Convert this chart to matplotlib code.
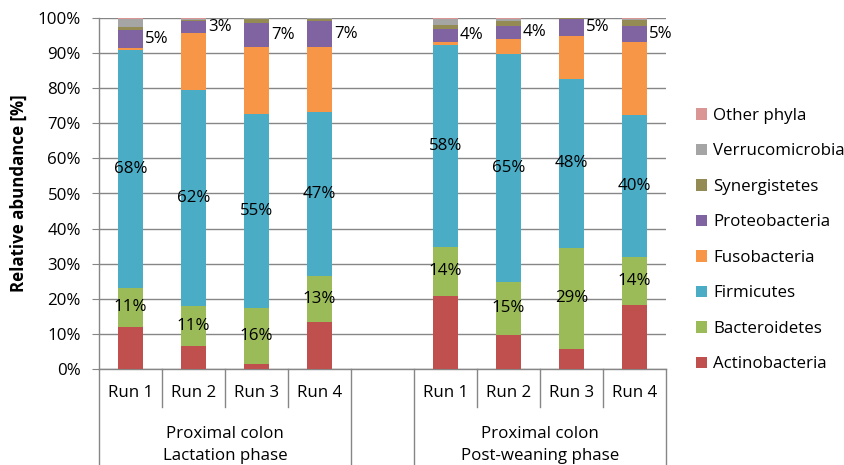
import matplotlib
matplotlib.use("Agg")
import matplotlib.pyplot as plt
from matplotlib.patches import Patch
import matplotlib.transforms as mtransforms
import numpy as np

plt.rcParams['font.family'] = ['Open Sans', 'DejaVu Sans']
FS = 12.2

runs = ["Run 1", "Run 2", "Run 3", "Run 4", "Run 1", "Run 2", "Run 3", "Run 4"]
groups = ["Proximal colon\nLactation phase", "Proximal colon\nPost-weaning phase"]
phyla = ["Actinobacteria", "Bacteroidetes", "Firmicutes", "Fusobacteria",
         "Proteobacteria", "Synergistetes", "Verrucomicrobia", "Other phyla"]

actinobacteria  = [11.9, 6.6, 1.5, 13.5, 20.9, 9.6, 5.8, 18.3]
bacteroidetes   = [11.3, 11.4, 16.0, 13.0, 13.9, 15.3, 28.7, 13.7]
firmicutes      = [67.7, 61.6, 55.2, 46.6, 57.6, 64.8, 48.1, 40.4]
fusobacteria    = [0.6, 16.2, 19.0, 18.6, 0.9, 4.4, 12.4, 20.8]
proteobacteria  = [5.2, 3.3, 7.0, 7.4, 3.6, 3.6, 4.6, 4.6]
synergistetes   = [0.7, 0.4, 1.1, 0.7, 1.1, 1.4, 0.3, 1.7]
verrucomicrobia = [2.4, 0.3, 0.1, 0.1, 1.8, 0.6, 0.0, 0.2]
other_phyla     = [0.2, 0.2, 0.1, 0.1, 0.2, 0.3, 0.1, 0.3]

series = [actinobacteria, bacteroidetes, firmicutes, fusobacteria,
          proteobacteria, synergistetes, verrucomicrobia, other_phyla]
colors = ["#C0504D", "#9BBB59", "#4BACC6", "#F79646",
          "#8064A2", "#948A54", "#A5A5A5", "#D99694"]

W, H = 845, 465
fig = plt.figure(figsize=(W / 100, H / 100), dpi=100)
left, right, top, bottom = 99, 666, 18, 369
ax = fig.add_axes([left / W, (H - bottom) / H, (right - left) / W, (bottom - top) / H])

xpos = np.array([0, 1, 2, 3, 5, 6, 7, 8])
bw = 0.4
base = np.zeros(len(xpos))
for vals, col in zip(series, colors):
    v = np.array(vals)
    ax.bar(xpos, v, bw, bottom=base, color=col, edgecolor="none", zorder=3)
    base += v

# data labels
bot = np.zeros(len(xpos))
for k, vals in enumerate(series):
    v = np.array(vals)
    for i, x in enumerate(xpos):
        if k in (1, 2):
            ax.text(x, bot[i] + v[i] / 2, f"{round(v[i]):d}%", ha="center", va="center",
                    fontsize=FS, zorder=5)
        elif k == 4:
            ax.text(x + bw / 2 + 0.03, bot[i] + v[i] / 2, f"{round(v[i]):d}%", ha="left",
                    va="center", fontsize=FS, zorder=5)
    bot += v

ax.set_xlim(-0.5, 8.5)
ax.set_ylim(0, 100)
ax.set_yticks(np.arange(0, 101, 10))
ax.set_yticklabels([f"{t}%" for t in range(0, 101, 10)], fontsize=FS)
ax.yaxis.grid(True, color="#868686", linewidth=1.0, zorder=0)
ax.set_axisbelow(True)
ax.set_xticks([])
for s in ["top", "right"]:
    ax.spines[s].set_visible(False)
for s in ["left", "bottom"]:
    ax.spines[s].set_color("#868686")
    ax.spines[s].set_linewidth(1.0)
ax.tick_params(axis="y", length=5, color="#868686", pad=8)
ax.set_ylabel("Relative abundance [%]", fontsize=FS, fontweight="bold")
ax.yaxis.set_label_coords(-(left - 28) / (right - left), 0.5)

# multi-level category axis
trans = mtransforms.blended_transform_factory(ax.transData, ax.transAxes)
ph = bottom - top
run_sep_y = -(407 - bottom) / ph
grp_sep_y = -(H - bottom) / ph
for b in [0.5, 1.5, 2.5, 5.5, 6.5, 7.5]:
    ax.plot([b, b], [0, run_sep_y], transform=trans, color="#868686", lw=1.0, clip_on=False)
for b in [-0.5, 3.5, 4.5, 8.5]:
    ax.plot([b, b], [0, grp_sep_y], transform=trans, color="#868686", lw=1.0, clip_on=False)
for x, r in zip(xpos, runs):
    ax.text(x, -(393 - bottom) / ph, r, transform=trans, ha="center", va="center", fontsize=FS)
for cx, g in zip([1.5, 6.5], groups):
    ax.text(cx, -(445 - bottom) / ph, g, transform=trans, ha="center", va="center",
            fontsize=FS, linespacing=1.45)

handles = [Patch(facecolor=c, edgecolor="none") for c in colors][::-1]
fig.legend(handles, phyla[::-1], loc="upper left", bbox_to_anchor=(696 / W, (H - 108) / H),
           frameon=False, fontsize=FS, handlelength=0.65, handleheight=0.65,
           handletextpad=0.35, labelspacing=1.15, borderpad=0, borderaxespad=0)

fig.savefig("out.png", dpi=100)
